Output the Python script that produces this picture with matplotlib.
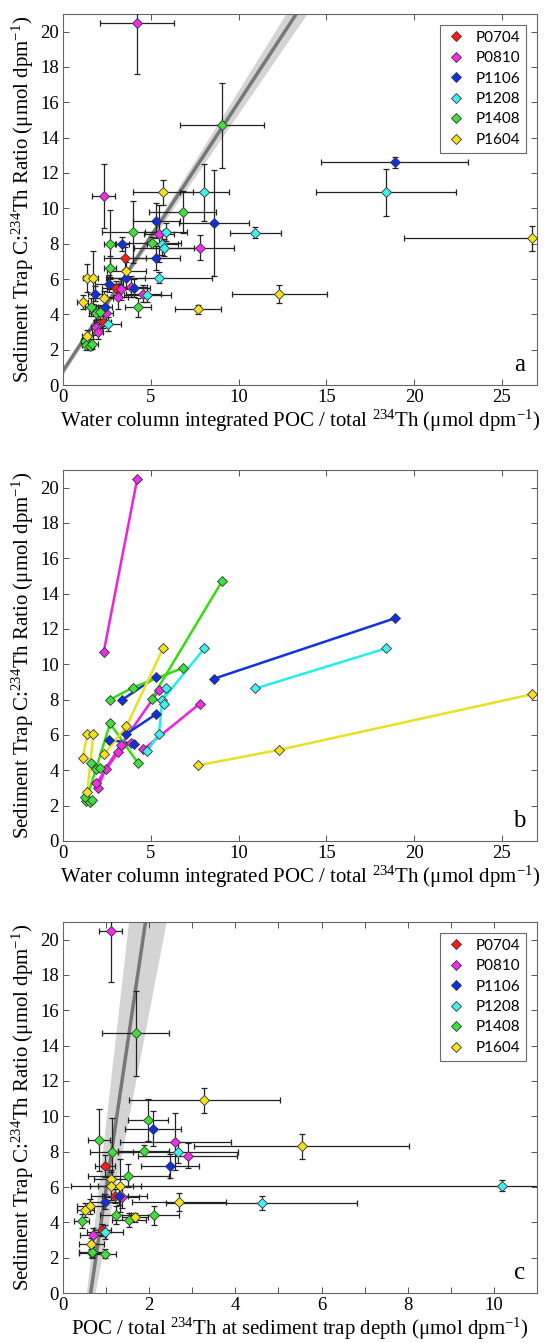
import matplotlib.pyplot as plt
import numpy as np

plt.rcParams['font.family'] = 'Liberation Serif'
plt.rcParams['mathtext.fontset'] = 'custom'
plt.rcParams['mathtext.rm'] = 'Liberation Serif'
plt.rcParams['mathtext.default'] = 'regular'

nan = np.nan
cruises = ['P0704', 'P0810', 'P1106', 'P1208', 'P1408', 'P1604']
colors = ['#ff1a1a', '#f02ee8', '#1030e0', '#40f0f0', '#3ee03a', '#f5e21a']
line_colors = ['#ff1a1a', '#ee22dd', '#1133dd', '#22eeee', '#33dd11', '#e8e020']

# sediment trap C:234Th ratio (umol/dpm) and error
y_p0704 = [7.19, 5.5, 3.58]
ye_p0704 = [0.6, 0.4, 0.35]
y_p0810 = [20.5, 10.7, 8.57, 7.78, 5.42, 5.57, 5.18, 5.01, 4.1, 3.26, 2.98]
ye_p0810 = [2.9, 1.8, 1.6, 0.7, 0.6, 0.6, 0.5, 0.7, 0.4, 0.4, 0.35]
y_p1106 = [12.6, 9.19, 9.3, 7.97, 7.19, 6.05, 5.74, 5.48, 5.18, 4.44]
ye_p1106 = [0.3, 3.0, 1.0, 0.4, 0.7, 0.5, 0.5, 0.5, 0.4, 0.4]
y_p1208 = [10.9, 8.63, 10.9, 8.66, 7.97, 7.78, 6.08, 5.08, 3.45]
ye_p1208 = [1.35, 0.3, 1.6, 0.5, 0.6, 0.5, 0.3, 0.4, 0.4]
y_p1408 = [14.7, 9.79, 8.68, 8.0, 8.06, 6.65, 4.39, 4.42, 4.08, 4.14, 2.5, 2.26, 2.22, 2.32]
ye_p1408 = [2.4, 1.2, 1.75, 1.9, 0.3, 0.66, 0.55, 0.5, 0.4, 0.4, 0.3, 0.25, 0.25, 0.3]
y_p1604 = [8.3, 5.16, 4.28, 10.9, 6.48, 4.9, 6.05, 6.06, 4.71, 2.79]
ye_p1604 = [0.7, 0.5, 0.25, 0.7, 0.5, 0.4, 0.8, 1.5, 0.4, 0.3]

# water column integrated POC / total 234Th and error
xa_p0704 = [3.53, 3.02, 2.26]
xae_p0704 = [1.2, 0.8, 0.5]
xa_p0810 = [4.23, 2.32, 5.49, 7.8, 3.29, 3.87, 4.58, 3.13, 2.43, 1.9, 1.98]
xae_p0810 = [2.1, 0.65, 0.85, 1.95, 0.8, 0.9, 1.0, 0.6, 0.4, 0.3, 0.3]
xa_p1106 = [18.9, 8.62, 5.32, 3.34, 5.32, 3.59, 2.62, 4.07, 1.84, 2.41]
xae_p1106 = [4.2, 2.0, 1.35, 0.4, 1.35, 1.1, 0.8, 0.9, 0.4, 0.4]
xa_p1208 = [18.4, 10.96, 8.05, 5.87, 5.66, 5.77, 5.47, 4.8, 2.58]
xae_p1208 = [4.0, 1.45, 1.4, 1.2, 0.9, 1.7, 3.0, 1.33, 0.7]
xa_p1408 = [9.06, 6.82, 3.97, 2.68, 5.05, 2.68, 4.29, 1.58, 1.88, 2.13, 1.23, 1.31, 1.54, 1.67]
xae_p1408 = [2.4, 1.9, 1.75, 0.35, 1.7, 0.35, 0.75, 0.3, 0.4, 0.4, 0.2, 0.25, 0.25, 0.3]
xa_p1604 = [26.7, 12.33, 7.69, 5.7, 3.61, 2.34, 1.39, 1.73, 1.12, 1.39]
xae_p1604 = [7.3, 2.7, 1.33, 1.73, 1.1, 0.5, 0.25, 0.25, 0.3, 0.3]

# POC / total 234Th at sediment trap depth and error
xc_p0704 = [0.97, 1.2, 0.91]
xce_p0704 = [0.23, 0.3, 0.2]
xc_p0810 = [1.11, nan, 2.61, 2.89, 1.36, nan, nan, nan, nan, 0.7, nan]
xce_p0810 = [0.27, nan, 1.28, 1.16, 0.4, nan, nan, nan, nan, 0.3, nan]
xc_p1106 = [nan, nan, 2.1, nan, 2.48, nan, nan, 1.3, 0.97, nan]
xce_p1106 = [nan, nan, 0.65, nan, 0.68, nan, nan, 0.64, 0.35, nan]
xc_p1208 = [nan, nan, nan, nan, 2.67, nan, 10.18, 4.61, 0.97]
xce_p1208 = [nan, nan, nan, nan, 1.4, nan, 10.0, 2.21, 0.42]
xc_p1408 = [1.69, 1.98, 0.84, 1.13, 1.87, 1.52, 2.12, 1.22, 0.43, 1.53, nan, 0.67, 0.98, 0.67]
xce_p1408 = [0.78, 0.46, 0.26, 0.5, 0.6, 0.94, 0.58, 0.35, 0.18, 0.4, nan, 0.3, 0.25, 0.3]
xc_p1604 = [5.54, 2.69, 1.67, 3.28, 1.11, 0.63, 1.12, 1.32, 0.52, 0.66]
xce_p1604 = [2.5, 1.09, 0.3, 1.75, 0.4, 0.3, 0.5, 0.5, 0.2, 0.3]

# station ids (points of one station are joined in panel b)
st_p0704 = [1, 2, 3]
st_p0810 = [1, 1, 2, 4, 2, 3, 4, 3, 2, 3, 2]
st_p1106 = [1, 1, 2, 2, 3, 3, 4, 4, 5, 6]
st_p1208 = [1, 1, 2, 3, 2, 3, 2, 2, 4]
st_p1408 = [1, 2, 2, 2, 1, 3, 3, 4, 4, 4, 5, 3, 5, 5]
st_p1604 = [1, 1, 1, 2, 2, 2, 3, 4, 3, 4]

# regression lines shown in panels a and c
fit_a_slope, fit_a_int = 1.52, 0.8
fit_c_slope, fit_c_int = 16.5, -10.6

data = {
    'P0704': (y_p0704, ye_p0704, xa_p0704, xae_p0704, xc_p0704, xce_p0704, st_p0704),
    'P0810': (y_p0810, ye_p0810, xa_p0810, xae_p0810, xc_p0810, xce_p0810, st_p0810),
    'P1106': (y_p1106, ye_p1106, xa_p1106, xae_p1106, xc_p1106, xce_p1106, st_p1106),
    'P1208': (y_p1208, ye_p1208, xa_p1208, xae_p1208, xc_p1208, xce_p1208, st_p1208),
    'P1408': (y_p1408, ye_p1408, xa_p1408, xae_p1408, xc_p1408, xce_p1408, st_p1408),
    'P1604': (y_p1604, ye_p1604, xa_p1604, xae_p1604, xc_p1604, xce_p1604, st_p1604),
}

fig = plt.figure(figsize=(5.44, 13.43), dpi=100)
ax_a = fig.add_axes([0.1158, 0.7133, 0.8712, 0.2763])
ax_b = fig.add_axes([0.1158, 0.3738, 0.8712, 0.2763])
ax_c = fig.add_axes([0.1158, 0.0372, 0.8712, 0.2763])

ylab = 'Sediment Trap C:$^{234}$Th Ratio (\u03bcmol dpm$^{-1}$)'
xlab_wc = 'Water column integrated POC / total $^{234}$Th (\u03bcmol dpm$^{-1}$)'
xlab_st = 'POC / total $^{234}$Th at sediment trap depth (\u03bcmol dpm$^{-1}$)'

# regression line + band
yy = np.linspace(-1, 22, 100)
xa_mid = (yy - fit_a_int) / fit_a_slope
hw_a = np.sqrt(0.1 ** 2 + (0.035 * (yy - 4)) ** 2)
ax_a.fill_betweenx(yy, xa_mid - hw_a, xa_mid + hw_a, color='#d4d4d4', lw=0, zorder=1)
ax_a.plot(xa_mid, yy, color='#777777', lw=2.5, zorder=2)

xc_mid = (yy - fit_c_int) / fit_c_slope
hw_c = 0.1 + 0.014 * yy
ax_c.fill_betweenx(yy, xc_mid - hw_c, xc_mid + hw_c + 0.004 * yy, color='#d4d4d4', lw=0, zorder=1)
ax_c.plot(xc_mid, yy, color='#777777', lw=2.5, zorder=2)

for i, name in enumerate(cruises):
    y, ye, xa, xae, xc, xce, st = [np.array(v, dtype=float) for v in data[name]]
    ax_a.errorbar(xa, y, xerr=xae, yerr=ye, fmt='none', ecolor='#222222',
                  elinewidth=0.9, capsize=2.5, capthick=0.9, zorder=3)
    ax_a.plot(xa, y, 'D', color=colors[i], mec='#333333', mew=0.6, ms=5,
              ls='none', zorder=4, label=name)
    ax_c.errorbar(xc, y, xerr=xce, yerr=ye, fmt='none', ecolor='#222222',
                  elinewidth=0.9, capsize=2.5, capthick=0.9, zorder=3)
    ax_c.plot(xc, y, 'D', color=colors[i], mec='#333333', mew=0.6, ms=5,
              ls='none', zorder=4, label=name)
    for s in np.unique(st):
        idx = np.where(st == s)[0]
        if len(idx) < 2:
            continue
        idx = idx[np.argsort(xa[idx])]
        ax_b.plot(xa[idx], y[idx], '-', color=line_colors[i], lw=1.8, zorder=3)
        ax_b.plot(xa[idx], y[idx], 'D', color=colors[i], mec='#333333', mew=0.6,
                  ms=5, zorder=4)

for ax, xl, lab in [(ax_a, xlab_wc, 'a'), (ax_b, xlab_wc, 'b'), (ax_c, xlab_st, 'c')]:
    ax.set_ylim(0, 21)
    ax.set_yticks(np.arange(0, 21, 2))
    ax.set_ylabel(ylab, fontsize=15, labelpad=3)
    ax.set_xlabel(xl, fontsize=15, labelpad=1)
    ax.tick_params(direction='in', top=True, right=True, length=4, width=0.7,
                   labelsize=13.5, pad=3, color='#555555')
    for sp in ax.spines.values():
        sp.set_color('#666666')
        sp.set_linewidth(0.8)
    ax.text(0.975, 0.025, lab, transform=ax.transAxes, ha='right', va='bottom',
            fontsize=18)

for ax in (ax_a, ax_b):
    ax.set_xlim(0, 27)
    ax.set_xticks(np.arange(0, 26, 5))

ax_c.set_xlim(0, 11)
ax_c.set_xticks(np.arange(0, 11, 1))
ax_c.set_xticklabels([str(v) if v % 2 == 0 else '' for v in range(11)])

for ax in (ax_a, ax_c):
    leg = ax.legend(loc='upper right', prop={'family': 'Lato', 'size': 11},
                    frameon=True, fancybox=False, edgecolor='#444444',
                    borderaxespad=0.7, labelspacing=0.42, handletextpad=0.6,
                    handlelength=1.3, borderpad=0.4)
    leg.get_frame().set_linewidth(0.8)

fig.savefig('out.png', dpi=100)
